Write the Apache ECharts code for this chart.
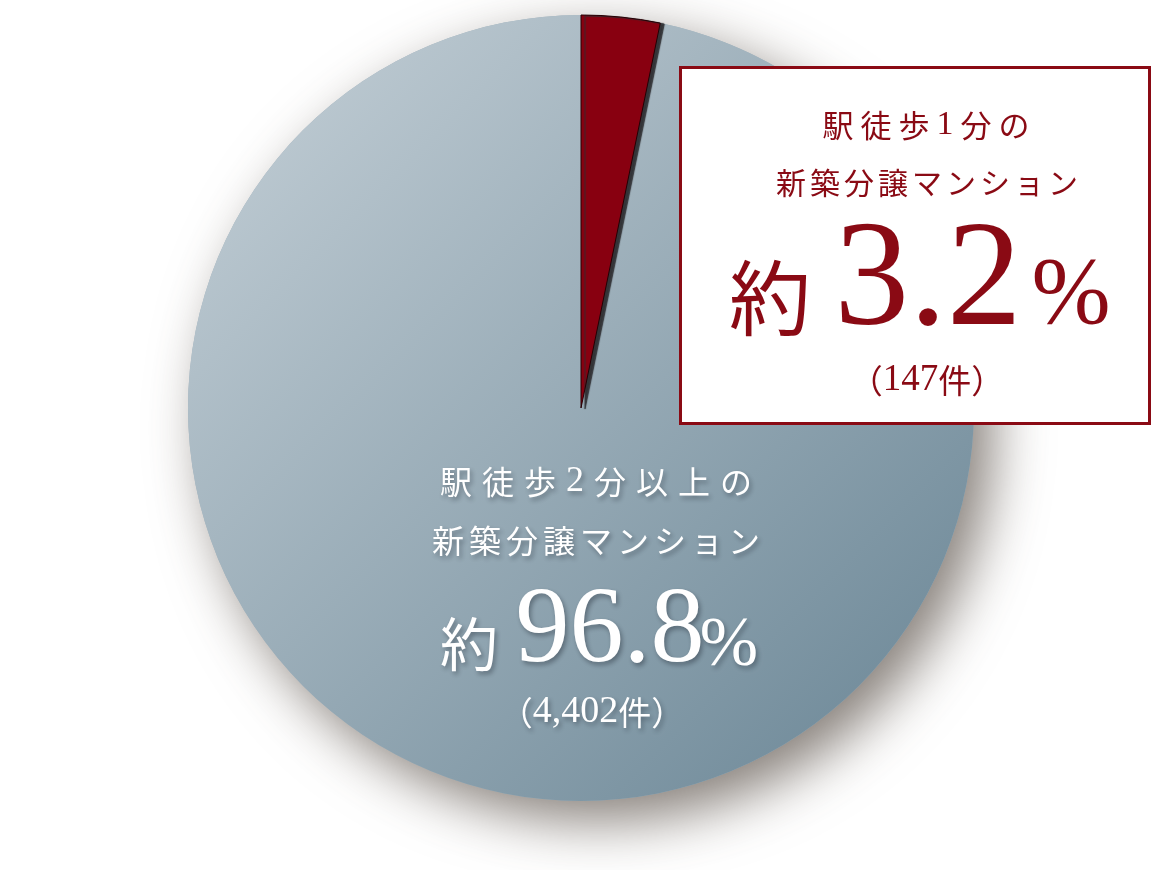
<!DOCTYPE html>
<html><head><meta charset="utf-8">
<script src="https://cdn.jsdelivr.net/npm/echarts@6/dist/echarts.min.js"></script>
<style>html,body{margin:0;padding:0;background:#fff}#c{width:1162px;height:870px}</style>
</head><body><div id="c"></div>
<script>
// ---- data ----
const categories = ['駅徒歩1分の新築分譲マンション', '駅徒歩2分以上の新築分譲マンション'];
const counts = [147, 4402];
const percents = ['3.2', '96.8'];
const labelLine1 = ['駅徒歩1分の', '駅徒歩2分以上の'];
const labelLine2 = ['新築分譲マンション', '新築分譲マンション'];
const prefix = '約';
const unitPct = '%';
const unitCount = '件';

const CJK = '"Noto Sans CJK JP", sans-serif';
const SERIF = '"Liberation Serif", "DejaVu Serif", serif';
const RED = '#8a0a14';
const total = counts.reduce((a, b) => a + b, 0);
const center = [581, 408];
const radius = 393;

function spaced(str) {
  return str.split('').map(ch => /[0-9]/.test(ch) ? '{d|' + ch + '}' : '{c|' + ch + '}').join('');
}
function fmtCount(n) { return n.toLocaleString('en-US'); }

const shadowW = { textShadowColor: 'rgba(30,40,50,0.45)', textShadowBlur: 5, textShadowOffsetX: 2, textShadowOffsetY: 3 };

function txt(x, y, text, rich, fill) {
  return { type: 'text', x: x, y: y, z: 100,
    style: { text: text, rich: rich, fill: fill, align: 'center', verticalAlign: 'middle', textAlign: 'center', textVerticalAlign: 'middle' } };
}
function st(base, extra) { return Object.assign({}, base, extra || {}); }

const chart = echarts.init(document.getElementById('c'));
const graphics = [
  { type: 'rect', z: 90, shape: { x: 680.5, y: 67.5, width: 469, height: 356 },
    style: { fill: '#fff', stroke: RED, lineWidth: 3 } },
  txt(926, 125, spaced(labelLine1[0]), {
    c: { fontFamily: CJK, fontSize: 31, fill: RED, padding: [0, 3.5] },
    d: { fontFamily: SERIF, fontSize: 34, fill: RED, padding: [0, 3.5] } }, RED),
  txt(927, 183, spaced(labelLine2[0]), {
    c: { fontFamily: CJK, fontSize: 30, fill: RED, padding: [0, 2] },
    d: { fontFamily: SERIF, fontSize: 33, fill: RED, padding: [0, 2] } }, RED),
  txt(770, 298, '{c|' + prefix + '}', { c: { fontFamily: CJK, fontSize: 82, fill: RED } }, RED),
  txt(928, 285, '{d|' + percents[0] + '}', { d: { fontFamily: SERIF, fontSize: 150, fill: RED } }, RED),
  txt(1071, 298, '{d|' + unitPct + '}', { d: { fontFamily: SERIF, fontSize: 95, fill: RED } }, RED),
  txt(927, 380, '{c|（}{d|' + fmtCount(counts[0]) + '}{c|' + unitCount + '）}', {
    c: { fontFamily: CJK, fontSize: 33, fill: RED },
    d: { fontFamily: SERIF, fontSize: 37, fill: RED } }, RED),

  txt(596, 482, spaced(labelLine1[1]), {
    c: st(shadowW, { fontFamily: CJK, fontSize: 32, fill: '#fff', padding: [0, 5] }),
    d: st(shadowW, { fontFamily: SERIF, fontSize: 36, fill: '#fff', padding: [0, 5] }) }, '#fff'),
  txt(596, 541, spaced(labelLine2[1]), {
    c: st(shadowW, { fontFamily: CJK, fontSize: 32, fill: '#fff', padding: [0, 2.5] }),
    d: st(shadowW, { fontFamily: SERIF, fontSize: 36, fill: '#fff', padding: [0, 2.5] }) }, '#fff'),
  txt(469, 644, '{c|' + prefix + '}', { c: st(shadowW, { fontFamily: CJK, fontSize: 58, fill: '#fff' }) }, '#fff'),
  txt(610, 633, '{d|' + percents[1] + '}', { d: st(shadowW, { fontFamily: SERIF, fontSize: 108, fill: '#fff' }) }, '#fff'),
  txt(729, 647, '{d|' + unitPct + '}', { d: st(shadowW, { fontFamily: SERIF, fontSize: 70, fill: '#fff' }) }, '#fff'),
  txt(592, 712, '{c|（}{d|' + fmtCount(counts[1]) + '}{c|' + unitCount + '）}', {
    c: st(shadowW, { fontFamily: CJK, fontSize: 33, fill: '#fff' }),
    d: st(shadowW, { fontFamily: SERIF, fontSize: 38, fill: '#fff' }) }, '#fff')
];

chart.setOption({
  animation: false,
  backgroundColor: '#fff',
  series: [
    { // soft drop shadow disc under the pie
      type: 'pie', z: 1, silent: true, center: center, radius: radius,
      label: { show: false }, labelLine: { show: false }, emphasis: { disabled: true },
      data: [{ value: total, name: 'shadow' }],
      itemStyle: { color: '#9fb0bb', borderWidth: 0, shadowBlur: 55, shadowOffsetX: 18, shadowOffsetY: 20, shadowColor: 'rgba(70,60,50,0.65)' }
    },
    {
      type: 'pie', z: 2, silent: true, center: center, radius: radius,
      startAngle: 90, clockwise: false,
      label: { show: false }, labelLine: { show: false }, emphasis: { disabled: true },
      data: [
        { value: counts[1], name: categories[1],
          itemStyle: { borderWidth: 0,
            color: new echarts.graphic.LinearGradient(0, 0, 1, 1, [
              { offset: 0, color: '#c6d1d8' }, { offset: 1, color: '#688494' }]) } },
        { value: counts[0], name: categories[0],
          itemStyle: { color: '#880010', borderColor: '#250004', borderWidth: 1,
            shadowColor: 'rgba(45,45,48,0.95)', shadowBlur: 1, shadowOffsetX: 4, shadowOffsetY: 1 } }
      ]
    }
  ],
  graphic: graphics
});
</script></body></html>
